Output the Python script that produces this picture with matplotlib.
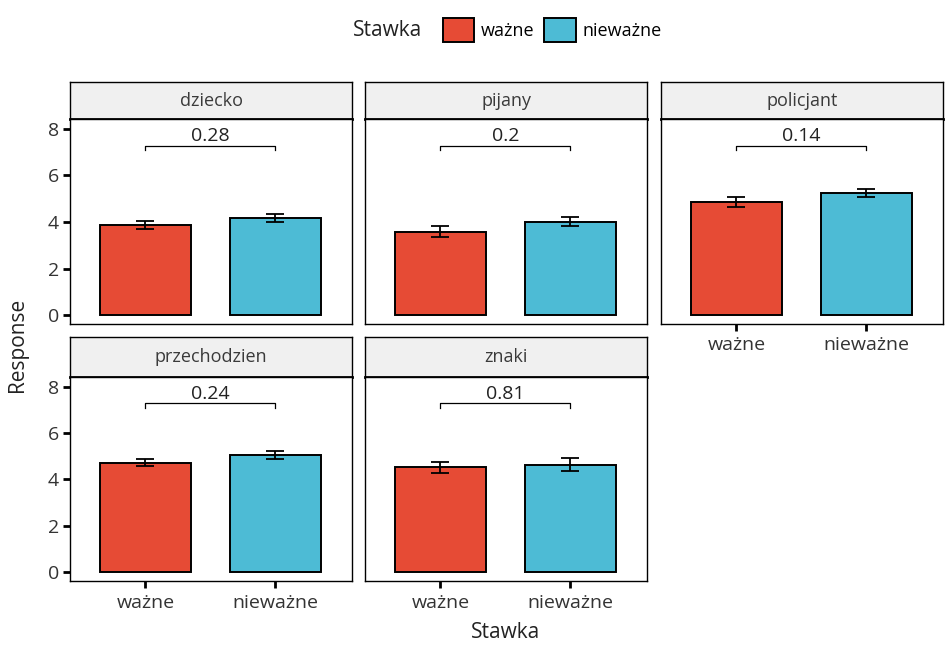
import matplotlib
matplotlib.use('Agg')
import matplotlib.pyplot as plt
from matplotlib.patches import Patch

plt.rcParams['font.family'] = ['Open Sans', 'DejaVu Sans']

groups = ['dziecko', 'pijany', 'policjant', 'przechodzien', 'znaki']
levels = ['ważne', 'nieważne']
means_wazne = [3.88, 3.59, 4.85, 4.72, 4.53]
means_niewazne = [4.17, 4.02, 5.25, 5.05, 4.64]
err_wazne = [0.18, 0.25, 0.22, 0.16, 0.24]
err_niewazne = [0.17, 0.21, 0.17, 0.17, 0.29]
pvals = ['0.28', '0.2', '0.14', '0.24', '0.81']
yticks = [0, 2, 4, 6, 8]

colors = ['#E64B35', '#4DBBD5']
W, H = 947, 653
fig = plt.figure(figsize=(W / 100, H / 100), dpi=100)


def rect(x0, y0, x1, y1):
    return [x0 / W, 1 - y1 / H, (x1 - x0) / W, (y1 - y0) / H]


cols = [(70, 352), (365, 647), (661, 943)]
rows = [(82, 119, 324), (337, 377, 581)]
positions = [(0, 0), (0, 1), (0, 2), (1, 0), (1, 1)]
xaxis_shown = {2, 3, 4}

for i, g in enumerate(groups):
    r, c = positions[i]
    x0, x1 = cols[c]
    st, sb, pb = rows[r]
    # strip
    sax = fig.add_axes(rect(x0, st, x1, sb))
    sax.set_facecolor('#F0F0F0')
    sax.set_xticks([]); sax.set_yticks([])
    for s in sax.spines.values():
        s.set_linewidth(1.0)
    sax.spines['bottom'].set_linewidth(2.0)
    sax.text(0.5, 0.5, g, ha='center', va='center', fontsize=13,
             color='#3a3a3a', transform=sax.transAxes)
    # panel
    ax = fig.add_axes(rect(x0, sb, x1, pb))
    xs = [1, 2]
    vals = [means_wazne[i], means_niewazne[i]]
    errs = [err_wazne[i], err_niewazne[i]]
    ax.bar(xs, vals, width=0.7, color=colors, edgecolor='black', linewidth=1.4, zorder=2)
    ax.errorbar(xs, vals, yerr=errs, fmt='none', ecolor='black', elinewidth=1.3,
                capsize=6.5, capthick=1.3, zorder=3)
    # significance bracket
    ax.plot([1, 1, 2, 2], [7.07, 7.28, 7.28, 7.07], color='black', linewidth=0.9, zorder=3)
    ax.text(1.5, 7.3, pvals[i], ha='center', va='bottom', fontsize=14, color='#222222')
    ax.set_xlim(0.42, 2.59)
    ax.set_ylim(-0.38, 8.42)
    for s in ax.spines.values():
        s.set_linewidth(1.0)
    ax.set_yticks(yticks)
    if c == 0:
        ax.set_yticklabels([str(t) for t in yticks], fontsize=14, color='#333333')
        ax.tick_params(axis='y', length=5, width=2, pad=3)
    else:
        ax.tick_params(axis='y', length=0, labelleft=False)
    ax.set_xticks(xs)
    if i in xaxis_shown:
        ax.set_xticklabels(levels, fontsize=14, color='#333333')
        ax.tick_params(axis='x', length=5, width=2, pad=4)
    else:
        ax.tick_params(axis='x', length=0, labelbottom=False)

fig.text(18 / W, 1 - 345 / H, 'Response', rotation=90, ha='center', va='center',
         fontsize=15, color='#222222')
fig.text(506 / W, 1 - 632 / H, 'Stawka', ha='center', va='center',
         fontsize=15, color='#222222')

# legend
fig.text(388 / W, 1 - 30 / H, 'Stawka', ha='center', va='center', fontsize=15, color='#222222')
handles = [Patch(facecolor=colors[k], edgecolor='black', linewidth=1.4, label=levels[k])
           for k in range(2)]
fig.legend(handles=handles, loc='center', bbox_to_anchor=(552 / W, 1 - 30 / H),
           ncol=2, frameon=False, fontsize=13, handlelength=1.75, handleheight=1.75,
           handletextpad=0.35, columnspacing=0.55, borderaxespad=0, borderpad=0)

fig.savefig('out.png', dpi=100)
